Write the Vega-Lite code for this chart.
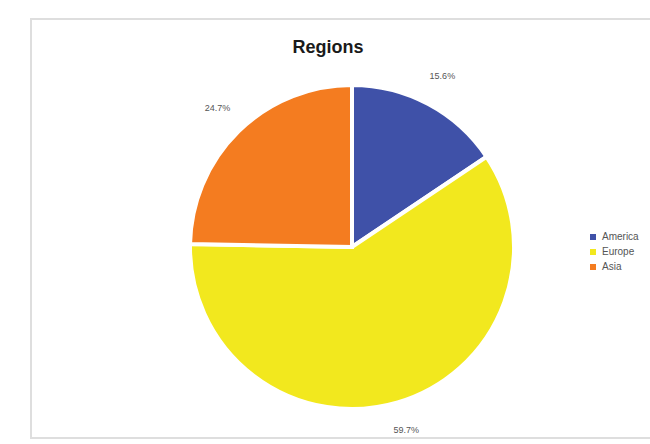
{
  "$schema": "https://vega.github.io/schema/vega-lite/v6.json",
  "width": 626,
  "height": 419,
  "padding": {"left": 31, "top": 19, "right": 0, "bottom": 6},
  "background": "white",
  "view": {"stroke": "#dedede", "strokeWidth": 2, "fill": "white"},
  "title": {"text": "Regions", "font": "Liberation Sans", "fontSize": 18, "fontWeight": "bold", "color": "#1a1a1a", "anchor": "middle", "offset": -38, "dx": -16},
  "data": {"values": [
    {"region": "America", "share": 0.156, "rank": 1},
    {"region": "Europe", "share": 0.597, "rank": 2},
    {"region": "Asia", "share": 0.247, "rank": 3}
  ]},
  "encoding": {
    "theta": {"field": "share", "type": "quantitative", "stack": true},
    "order": {"field": "rank", "type": "ordinal"}
  },
  "layer": [
    {
      "mark": {"type": "arc", "outerRadius": 162, "stroke": "white", "strokeWidth": 4, "x": {"expr": "width/2+8"}, "y": {"expr": "height/2+18.5"}},
      "encoding": {
        "color": {"field": "region", "type": "nominal", "title": null,
          "scale": {"domain": ["America", "Europe", "Asia"], "range": ["#3f51a8", "#f2e81e", "#f47c20"]},
          "legend": {"orient": "none", "legendX": 557, "legendY": 213, "symbolType": "square", "symbolSize": 36, "labelFontSize": 10, "labelFont": "Liberation Sans", "labelColor": "#555", "rowPadding": 5, "labelOffset": 4, "symbolStrokeWidth": 0}}
      }
    },
    {
      "mark": {"type": "text", "radius": 192, "fontSize": 9, "font": "Liberation Sans", "color": "#555", "x": {"expr": "width/2+8"}, "y": {"expr": "height/2+17"}},
      "encoding": {
        "text": {"field": "share", "type": "quantitative", "format": ".1%"}
      }
    }
  ]
}
